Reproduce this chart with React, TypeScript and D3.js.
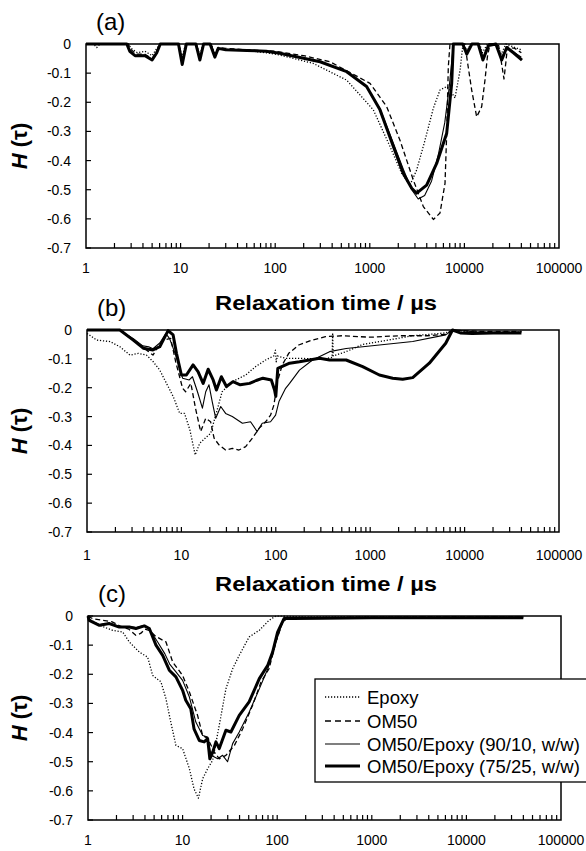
import React from "react";
import * as d3 from "d3";

type Pt = [number, number];

// ---------------- Panel (a) ----------------
const aEpoxy: Pt[] = [[1,0],[1.2,0],[1.3,-0.012],[1.4,0],[2.8,0],[3.0,-0.015],[3.5,-0.03],[4.2,-0.025],[5.0,-0.04],[5.6,-0.015],[6.1,0],[9.6,0],[10.4,-0.045],[11.3,0],[14.8,0],[16,-0.04],[17.3,0],[21,0],[23,-0.035],[25,-0.015],[30,-0.018],[50,-0.022],[80,-0.03],[112,-0.038],[250,-0.066],[570,-0.124],[1090,-0.226],[1636,-0.352],[2170,-0.444],[2660,-0.484],[3130,-0.432],[3835,-0.33],[4700,-0.22],[5520,-0.158],[6500,-0.146],[7040,-0.158],[7960,-0.185],[9000,-0.09],[9660,0],[10500,-0.02],[12000,0],[14500,0],[15500,-0.03],[17500,0],[22000,0],[24500,-0.035],[27500,0],[33000,-0.01],[40000,-0.02]];
const aOM50: Pt[] = [[1,0],[2.8,0],[3.0,-0.02],[3.4,-0.035],[4.2,-0.035],[5.0,-0.05],[5.7,-0.02],[6.1,0],[9.6,0],[10.4,-0.06],[11.4,0],[14.6,0],[16,-0.05],[17.4,0],[21,0],[23,-0.04],[25,-0.012],[30,-0.015],[50,-0.02],[100,-0.025],[200,-0.04],[380,-0.061],[1005,-0.135],[1507,-0.215],[2084,-0.33],[2885,-0.467],[3680,-0.558],[4700,-0.602],[5520,-0.58],[6240,-0.478],[6500,-0.306],[6760,-0.078],[7040,0],[10140,0],[10700,-0.055],[11940,-0.158],[13480,-0.25],[15230,-0.215],[16500,-0.124],[17500,-0.044],[18650,0],[23000,-0.005],[24000,-0.04],[26200,-0.12],[27500,-0.06],[28500,-0.01],[34000,-0.015],[40000,-0.03]];
const a9010: Pt[] = [[1,0],[2.7,0],[2.9,-0.025],[3.3,-0.04],[4.2,-0.038],[5.0,-0.052],[5.6,-0.028],[6.1,0],[9.5,0],[10.4,-0.068],[11.5,0],[14.5,0],[16,-0.052],[17.5,0],[20.5,0],[23,-0.045],[25,-0.015],[30,-0.018],[50,-0.022],[80,-0.025],[112,-0.032],[298,-0.06],[570,-0.095],[925,-0.146],[1282,-0.222],[1774,-0.34],[2260,-0.43],[2773,-0.5],[3250,-0.532],[3800,-0.52],[4500,-0.47],[5300,-0.38],[6200,-0.27],[6900,-0.15],[7500,-0.03],[7700,0],[9700,0],[10500,-0.03],[12000,0],[14000,0],[15500,-0.05],[18000,0],[21500,0],[24500,-0.05],[28000,-0.01],[34000,-0.03],[40000,-0.045]];
const a7525: Pt[] = [[1,0],[2.7,0],[2.9,-0.025],[3.3,-0.04],[4.2,-0.04],[5.0,-0.055],[5.6,-0.03],[6.1,0],[9.5,0],[10.4,-0.07],[11.5,0],[14.5,0],[16,-0.055],[17.5,0],[20.5,0],[23,-0.045],[25,-0.015],[30,-0.02],[50,-0.022],[80,-0.025],[112,-0.032],[298,-0.061],[570,-0.095],[925,-0.146],[1282,-0.226],[1774,-0.352],[2260,-0.444],[2773,-0.495],[3130,-0.512],[3990,-0.484],[5090,-0.41],[6500,-0.306],[7340,-0.135],[7640,0],[9600,0],[10600,-0.035],[12000,0],[14000,0],[15700,-0.055],[18000,-0.005],[21500,0],[24800,-0.055],[28000,-0.012],[33000,-0.03],[40600,-0.055]];

// ---------------- Panel (b) ----------------
const bEpoxy: Pt[] = [[1,-0.012],[1.27,-0.035],[1.75,-0.04],[2.23,-0.058],[2.85,-0.087],[3.5,-0.081],[4.27,-0.087],[5.03,-0.11],[5.9,-0.139],[6.95,-0.185],[8.2,-0.231],[9.6,-0.289],[10.8,-0.289],[12.3,-0.346],[14.0,-0.433],[15.6,-0.393],[18.5,-0.37],[20.4,-0.358],[23.1,-0.295],[27,-0.214],[34.6,-0.179],[48,-0.156],[61,-0.127],[78,-0.104],[95,-0.09],[99,-0.07],[101,-0.11],[104,-0.09],[127,-0.098],[175,-0.098],[250,-0.1],[330,-0.1],[395,-0.095],[400,-0.01],[405,-0.09],[556,-0.075],[832,-0.05],[1250,-0.04],[2820,-0.02],[6310,-0.01],[7450,0],[10000,-0.005],[20000,-0.008],[40000,-0.005]];
const bOM50: Pt[] = [[1,0],[1.5,0],[2.2,0],[3.1,-0.035],[3.9,-0.06],[4.5,-0.075],[5.0,-0.087],[5.6,-0.06],[6.4,-0.035],[7.7,-0.029],[8.7,-0.11],[10.3,-0.202],[11.1,-0.214],[12.6,-0.185],[14.1,-0.271],[16.0,-0.352],[18.1,-0.306],[20.4,-0.318],[22.2,-0.375],[25,-0.398],[29.4,-0.416],[34.6,-0.41],[40.7,-0.416],[48,-0.404],[56.5,-0.375],[66.4,-0.341],[78,-0.318],[88,-0.295],[95.5,-0.26],[104,-0.179],[117,-0.121],[137,-0.081],[175,-0.052],[242,-0.035],[336,-0.023],[500,-0.02],[1000,-0.025],[2000,-0.02],[4000,-0.02],[6300,-0.015],[7450,0],[15000,-0.005],[40000,-0.005]];
const b9010: Pt[] = [[1,0],[2.2,0],[3.1,-0.03],[3.9,-0.055],[4.5,-0.058],[5.0,-0.065],[5.9,-0.045],[6.84,-0.012],[7.5,-0.03],[8.7,-0.087],[10.3,-0.167],[12.1,-0.173],[13.1,-0.162],[14.8,-0.214],[16.7,-0.271],[18.1,-0.214],[19.6,-0.19],[21.2,-0.248],[23.1,-0.306],[26.1,-0.265],[29.4,-0.289],[34.6,-0.3],[44.3,-0.323],[54,-0.318],[63.5,-0.352],[71.8,-0.323],[88,-0.318],[99.5,-0.295],[108,-0.248],[127,-0.202],[140,-0.185],[178,-0.139],[245,-0.104],[371,-0.075],[556,-0.064],[1250,-0.052],[2820,-0.04],[6310,-0.017],[7450,0],[15000,-0.008],[40000,-0.008]];
const b7525: Pt[] = [[1,0],[2.23,0],[3.09,-0.035],[3.94,-0.063],[5.0,-0.069],[5.9,-0.058],[7.23,-0.002],[8.17,-0.017],[8.87,-0.081],[10,-0.156],[11.3,-0.156],[13.3,-0.121],[15.0,-0.144],[17.0,-0.185],[19.2,-0.136],[21.7,-0.173],[23.5,-0.208],[26.5,-0.162],[30,-0.196],[35.2,-0.179],[42,-0.19],[52.8,-0.185],[62,-0.175],[73,-0.167],[89.6,-0.173],[97,-0.208],[100,-0.23],[105,-0.133],[140,-0.115],[178,-0.11],[290,-0.098],[371,-0.104],[556,-0.104],[832,-0.127],[1250,-0.156],[1730,-0.167],[2210,-0.171],[2820,-0.165],[4230,-0.115],[6310,-0.046],[7450,0],[9000,-0.01],[12000,-0.012],[20000,-0.01],[40000,-0.01]];

// ---------------- Panel (c) ----------------
const cEpoxy: Pt[] = [[1,-0.005],[1.05,-0.012],[1.32,-0.032],[1.82,-0.049],[2.33,-0.055],[2.73,-0.089],[3.49,-0.124],[4.27,-0.141],[4.83,-0.204],[5.9,-0.226],[6.67,-0.284],[7.5,-0.364],[8.5,-0.444],[10.0,-0.455],[11.8,-0.524],[13.2,-0.593],[14.7,-0.625],[16.3,-0.558],[18.4,-0.524],[20.8,-0.495],[24.4,-0.375],[28.7,-0.25],[33.8,-0.181],[39.7,-0.135],[50.5,-0.072],[64.7,-0.049],[82,-0.015],[97,0],[200,-0.003],[1000,-0.003],[10000,-0.003],[40000,-0.003]];
const cOM50: Pt[] = [[1,0],[1.12,-0.009],[1.43,-0.015],[1.8,-0.02],[2.2,-0.035],[2.7,-0.045],[3.2,-0.066],[3.6,-0.06],[4.0,-0.045],[4.5,-0.05],[5.2,-0.07],[6.16,-0.083],[6.67,-0.089],[7.86,-0.158],[10.0,-0.204],[11.8,-0.261],[14.4,-0.341],[16.3,-0.41],[18.4,-0.42],[21.7,-0.467],[24.4,-0.49],[28.7,-0.478],[35.3,-0.444],[43.2,-0.387],[55,-0.306],[67.5,-0.226],[82,-0.181],[97,-0.089],[114,-0.021],[130,-0.005],[200,-0.005],[1000,-0.004],[10000,-0.003],[40000,-0.003]];
const c9010: Pt[] = [[1,0],[1.05,-0.015],[1.32,-0.03],[1.68,-0.024],[2.14,-0.036],[2.73,-0.036],[3.21,-0.04],[3.94,-0.032],[4.45,-0.045],[5.45,-0.089],[6.5,-0.13],[7.3,-0.165],[8.5,-0.192],[10.0,-0.221],[11.8,-0.278],[13.8,-0.364],[16.3,-0.41],[18.4,-0.415],[20,-0.478],[23.5,-0.49],[26.5,-0.478],[29.9,-0.5],[33.8,-0.438],[39.7,-0.398],[50.5,-0.33],[64.7,-0.25],[79.5,-0.181],[97,-0.089],[114,-0.021],[130,-0.005],[300,-0.005],[3000,-0.005],[40000,-0.004]];
const c7525: Pt[] = [[1,0],[1.03,-0.015],[1.32,-0.032],[1.68,-0.026],[2.14,-0.038],[2.73,-0.038],[3.21,-0.043],[3.94,-0.034],[4.45,-0.043],[5.23,-0.1],[6.16,-0.135],[7.23,-0.186],[8.5,-0.209],[10.0,-0.255],[10.8,-0.289],[12.2,-0.318],[13.2,-0.387],[15.0,-0.427],[16.9,-0.432],[18.4,-0.421],[19.4,-0.49],[20.8,-0.467],[22.5,-0.432],[24.4,-0.455],[28.7,-0.392],[32.4,-0.398],[39.7,-0.341],[50.5,-0.295],[64.7,-0.215],[79.5,-0.169],[89.5,-0.124],[101,-0.055],[118,-0.009],[146,-0.009],[300,-0.008],[1000,-0.006],[10000,-0.006],[40000,-0.006]];

const xTickLabels = ["1", "10", "100", "1000", "10000", "100000"];
const yTickValues = [0, -0.1, -0.2, -0.3, -0.4, -0.5, -0.6, -0.7];
const yTickLabels = ["0", "-0.1", "-0.2", "-0.3", "-0.4", "-0.5", "-0.6", "-0.7"];
const seriesNames = ["Epoxy", "OM50", "OM50/Epoxy (90/10, w/w)", "OM50/Epoxy (75/25, w/w)"];

const FONT = "'Liberation Sans', Arial, Helvetica, sans-serif";

const styles = [
  { width: 1.3, dash: "1.2 1.8" },
  { width: 1.3, dash: "5 3" },
  { width: 1.1, dash: undefined as string | undefined },
  { width: 3, dash: undefined as string | undefined },
];

type PanelProps = {
  label: string;
  left: number; right: number; top: number; bottom: number;
  series: Pt[][];
  tickLabelOffset: number;
  xTitleY?: number;
};

function Panel({ label, left, right, top, bottom, series, tickLabelOffset, xTitleY }: PanelProps) {
  const x = d3.scaleLog().domain([1, 100000]).range([left, right]);
  const y = d3.scaleLinear().domain([0, -0.7]).range([top, bottom]);
  const line = d3.line<Pt>().x((d) => x(d[0])).y((d) => y(d[1]));
  const minor: number[] = [];
  for (let e = 0; e < 5; e++) {
    for (let m = 1; m <= 9; m++) {
      const v = m * Math.pow(10, e);
      if (v > 1) minor.push(v);
    }
  }
  const majors = xTickLabels.map((t) => +t);
  const cy = (top + bottom) / 2;
  return (
    <g>
      <text x={left + 10} y={top - 14} fontFamily={FONT} fontSize={24}>{label}</text>
      {series.map((s, i) => (
        <path key={i} d={line(s) || ""} fill="none" stroke="#000"
          strokeWidth={styles[i].width} strokeDasharray={styles[i].dash}
          strokeLinejoin="round" />
      ))}
      <rect x={left} y={top} width={right - left} height={bottom - top}
        fill="none" stroke="#000" strokeWidth={1.5} />
      {minor.map((v) => (
        <line key={v} x1={x(v)} x2={x(v)} y1={bottom} y2={bottom - 5} stroke="#000" strokeWidth={1.2} />
      ))}
      {yTickValues.map((v) => (
        <line key={v} x1={left} x2={left + 5} y1={y(v)} y2={y(v)} stroke="#000" strokeWidth={1.2} />
      ))}
      {majors.map((v, i) => (
        <text key={v} x={x(v)} y={bottom + tickLabelOffset} textAnchor="middle"
          fontFamily={FONT} fontSize={14}>{xTickLabels[i]}</text>
      ))}
      {yTickValues.map((v, i) => (
        <text key={v} x={left - 15} y={y(v) + 5} textAnchor="end"
          fontFamily={FONT} fontSize={14}>{yTickLabels[i]}</text>
      ))}
      <text transform={`translate(27,${cy}) rotate(-90)`} textAnchor="middle"
        fontFamily={FONT} fontSize={22} fontWeight="bold">
        <tspan fontStyle="italic">H</tspan> (τ)
      </text>
      {xTitleY !== undefined && (
        <text x={326} y={xTitleY} textAnchor="middle" fontFamily={FONT} fontSize={21}
          fontWeight="bold" textLength={222} lengthAdjust="spacingAndGlyphs">
          Relaxation time / µs
        </text>
      )}
    </g>
  );
}

function Legend() {
  const x0 = 315, y0 = 679, w = 275, h = 103;
  const rows = [697, 721, 744, 766];
  return (
    <g>
      <rect x={x0} y={y0} width={w} height={h} fill="#fff" stroke="#000" strokeWidth={1.3} />
      {seriesNames.map((n, i) => (
        <g key={n}>
          <line x1={325} x2={360} y1={rows[i]} y2={rows[i]} stroke="#000"
            strokeWidth={styles[i].width} strokeDasharray={i === 1 ? "6 4" : styles[i].dash} />
          <text x={367} y={rows[i] + 6.5} fontFamily={FONT} fontSize={18.5}>{n}</text>
        </g>
      ))}
    </g>
  );
}

export default function App() {
  return (
    <svg width={586} height={851} viewBox="0 0 586 851"
      style={{ position: "absolute", left: 0, top: 0, background: "#fff" }}>
      <rect x={0} y={0} width={586} height={851} fill="#fff" />
      <Panel label="(a)" left={86} right={559} top={44} bottom={248}
        series={[aEpoxy, aOM50, a9010, a7525]} tickLabelOffset={25} xTitleY={310} />
      <Panel label="(b)" left={87} right={559} top={330} bottom={532}
        series={[bEpoxy, bOM50, b9010, b7525]} tickLabelOffset={28} xTitleY={591} />
      <Panel label="(c)" left={88} right={561} top={616} bottom={820}
        series={[cEpoxy, cOM50, c9010, c7525]} tickLabelOffset={25} />
      <Legend />
    </svg>
  );
}
